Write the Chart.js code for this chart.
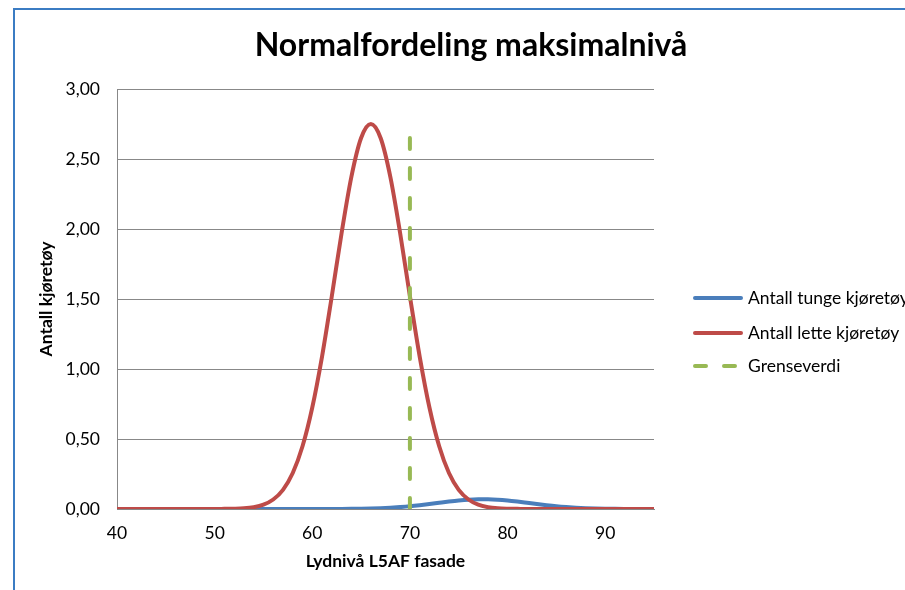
<!DOCTYPE html>
<html>
<head>
<meta charset="utf-8">
<script src="https://cdn.jsdelivr.net/npm/chart.js@4.4.1/dist/chart.umd.min.js"></script>
<style>
  html, body { margin: 0; padding: 0; background: #fff; }
  #wrap { width: 905px; height: 590px; }
</style>
</head>
<body>
<div id="wrap"><canvas id="normalChart" width="905" height="590"></canvas></div>
<script>
// Lydnivå (dB) along the x axis
const levels = [40, 41, 42, 43, 44, 45, 46, 47, 48, 49, 50, 51, 52, 53, 54, 55, 56, 57, 58, 59,
  60, 61, 62, 63, 64, 65, 66, 67, 68, 69, 70, 71, 72, 73, 74, 75, 76, 77, 78, 79,
  80, 81, 82, 83, 84, 85, 86, 87, 88, 89, 90, 91, 92, 93, 94, 95];

// Antall tunge kjøretøy
const heavy = [0, 0, 0, 0, 0, 0, 0, 0, 0, 0, 0, 0, 0, 0, 0, 0, 0, 0, 0, 0,
  0, 0.0001, 0.0003, 0.0006, 0.0011, 0.002, 0.0035, 0.0057, 0.009, 0.0136,
  0.0194, 0.0268, 0.0352, 0.0442, 0.053, 0.0608, 0.0666, 0.0696, 0.0696, 0.0666,
  0.0608, 0.053, 0.0442, 0.0352, 0.0268, 0.0194, 0.0136, 0.009, 0.0057, 0.0035,
  0.002, 0.0011, 0.0006, 0.0003, 0.0001, 0];

// Antall lette kjøretøy
const light = [0, 0, 0, 0, 0, 0, 0, 0, 0, 0, 0, 0.001, 0.002, 0.005, 0.013, 0.031, 0.068, 0.137, 0.257, 0.448,
  0.725, 1.089, 1.52, 1.97, 2.371, 2.65, 2.75, 2.65, 2.371, 1.97,
  1.52, 1.089, 0.725, 0.448, 0.257, 0.137, 0.068, 0.031, 0.013, 0.005,
  0.002, 0.001, 0, 0, 0, 0, 0, 0, 0, 0, 0, 0, 0, 0, 0, 0];

// Grenseverdi
const limitX = [70, 70];
const limitY = [0, 2.65];

const xTicks = [40, 50, 60, 70, 80, 90];
const yTicks = [0, 0.5, 1, 1.5, 2, 2.5, 3];

const seriesNames = ["Antall tunge kjøretøy", "Antall lette kjøretøy", "Grenseverdi"];
const seriesColors = ["#4a7ebb", "#be4b48", "#98b954"];

const FONT = "Lato, 'Open Sans', sans-serif";

const toPoints = (xs, ys) => xs.map((x, i) => ({ x: x, y: ys[i] }));

const decoPlugin = {
  id: "deco",
  beforeDraw(chart) {
    const c = chart.ctx;
    c.save();
    c.fillStyle = "#fff";
    c.fillRect(0, 0, chart.width, chart.height);
    c.strokeStyle = "#3b7cc3";
    c.lineWidth = 2;
    c.beginPath();
    c.moveTo(14, chart.height);
    c.lineTo(14, 9);
    c.lineTo(chart.width, 9);
    c.stroke();
    c.restore();
  },
  afterDraw(chart) {
    const c = chart.ctx;
    c.save();
    // title
    c.fillStyle = "#000";
    c.font = "bold 32px " + FONT;
    c.textAlign = "center";
    c.textBaseline = "middle";
    c.fillText("Normalfordeling maksimalnivå", 471, 46);
    // legend
    const rows = [298, 333, 366];
    c.font = "17.5px " + FONT;
    c.textAlign = "left";
    rows.forEach((y, i) => {
      c.strokeStyle = seriesColors[i];
      c.lineWidth = 4;
      c.lineCap = "round";
      c.setLineDash(i === 2 ? [11, 18] : []);
      c.beginPath();
      c.moveTo(695, y);
      c.lineTo(741, y);
      c.stroke();
      c.fillText(seriesNames[i], 748, y);
    });
    c.restore();
  }
};

const ctx = document.getElementById("normalChart").getContext("2d");
const normalChart = new Chart(ctx, {
  type: "line",
  data: {
    datasets: [
      {
        label: seriesNames[0],
        data: toPoints(levels, heavy),
        borderColor: seriesColors[0],
        borderWidth: 4,
        pointRadius: 0,
        cubicInterpolationMode: "monotone",
        order: 3,
      },
      {
        label: seriesNames[1],
        data: toPoints(levels, light),
        borderColor: seriesColors[1],
        borderWidth: 4,
        pointRadius: 0,
        cubicInterpolationMode: "monotone",
        order: 2,
      },
      {
        label: seriesNames[2],
        data: toPoints(limitX, limitY),
        borderColor: seriesColors[2],
        borderWidth: 4,
        borderDash: [11, 19],
        borderCapStyle: "round",
        pointRadius: 0,
        order: 1,
      },
    ],
  },
  options: {
    responsive: false,
    animation: false,
    layout: { padding: { top: 89, right: 251, left: 0, bottom: 0 } },
    plugins: {
      legend: { display: false },
      title: { display: false },
      tooltip: { enabled: false },
    },
    scales: {
      x: {
        type: "linear",
        min: 40,
        max: 95,
        afterBuildTicks: (scale) => { scale.ticks = xTicks.map(v => ({ value: v })); },
        afterFit: (scale) => { scale.height = 81; },
        grid: { display: false, drawTicks: false },
        border: { display: true, color: "#888", width: 1 },
        ticks: { padding: 14, color: "#000", font: { family: FONT, size: 17.5 } },
        title: {
          display: true,
          text: "Lydnivå L5AF fasade",
          color: "#000",
          font: { family: FONT, size: 17.5, weight: "bold" },
          padding: { top: 0, bottom: 18 },
        },
      },
      y: {
        min: 0,
        max: 3,
        afterBuildTicks: (scale) => { scale.ticks = yTicks.map(v => ({ value: v })); },
        afterFit: (scale) => { scale.width = 117; },
        grid: { color: "#888", lineWidth: 1, drawTicks: false },
        border: { display: true, color: "#888", width: 1 },
        ticks: {
          padding: 17,
          color: "#000",
          font: { family: FONT, size: 17.5 },
          callback: (v) => v.toFixed(2).replace(".", ","),
        },
        title: {
          display: true,
          text: "Antall kjøretøy",
          color: "#000",
          font: { family: FONT, size: 17.5, weight: "bold" },
          padding: { top: 36, bottom: 0 },
        },
      },
    },
  },
  plugins: [decoPlugin],
});
</script>
</body>
</html>
